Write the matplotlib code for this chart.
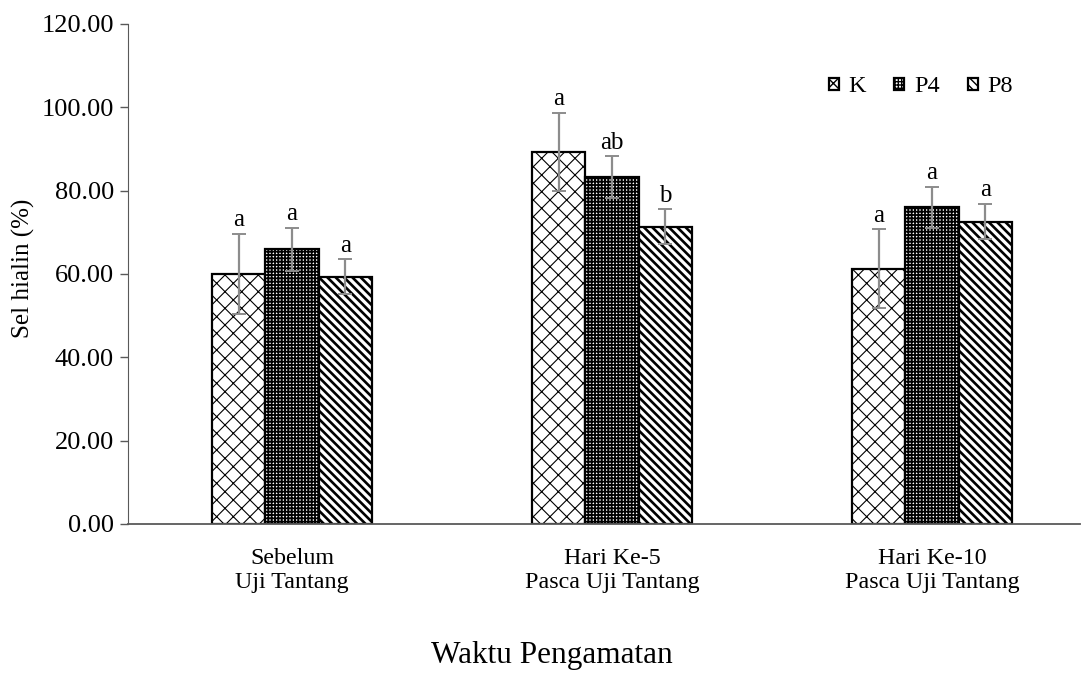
import matplotlib
matplotlib.use("Agg")
import matplotlib.pyplot as plt
import numpy as np

# data
groups = ["Sebelum\nUji Tantang", "Hari Ke-5\nPasca Uji Tantang", "Hari Ke-10\nPasca Uji Tantang"]
series = ["K", "P4", "P8"]
k_vals = [60.0, 89.3, 61.3]
p4_vals = [65.9, 83.3, 76.0]
p8_vals = [59.3, 71.3, 72.6]
k_err = [9.6, 9.4, 9.5]
p4_err = [5.2, 5.0, 5.0]
p8_err = [4.2, 4.2, 4.3]
k_sig = ["a", "a", "a"]
p4_sig = ["a", "ab", "a"]
p8_sig = ["a", "b", "a"]

plt.rcParams["font.family"] = ["Liberation Serif", "DejaVu Serif"]

fig = plt.figure(figsize=(10.81, 6.74), dpi=100)
ax = fig.add_axes([128 / 1081, 1 - 524 / 674, (1080 - 128) / 1081, 500 / 674])

x = np.arange(len(groups))
width = 0.167
hatches = ["xx", "+++++", "\\\\\\\\"]
hatch_lw = [0.8, 1.3, 1.9]
vals = [k_vals, p4_vals, p8_vals]
errs = [k_err, p4_err, p8_err]
sigs = [k_sig, p4_sig, p8_sig]

for i, name in enumerate(series):
    pos = x + (i - 1) * width
    with plt.rc_context({"hatch.linewidth": hatch_lw[i]}):
        ax.bar(pos, vals[i], width, facecolor="white", edgecolor="black",
               linewidth=1.6, hatch=hatches[i], label=name, zorder=2)
    ax.errorbar(pos, vals[i], yerr=errs[i], fmt="none", ecolor="#8c8c8c",
                elinewidth=1.6, capsize=5, capthick=1.4, zorder=3)
    for p, v, e, s in zip(pos, vals[i], errs[i], sigs[i]):
        ax.text(p, v + e + 0.6, s, ha="center", va="bottom", fontsize=18)

ax.set_xlim(-0.5125, 2.4625)
ax.set_ylim(0, 120)
ax.set_yticks(np.arange(0, 121, 20))
ax.set_yticklabels([f"{t:.2f}" for t in np.arange(0, 121, 20)], fontsize=19)
ax.set_xticks(x)
ax.set_xticklabels(groups, fontsize=17.3, linespacing=1.2)
ax.tick_params(axis="x", length=0, pad=17)
ax.tick_params(axis="y", direction="out", length=6, width=1, color="#595959", pad=4)
for side in ["top", "right"]:
    ax.spines[side].set_visible(False)
ax.spines["left"].set_color("#595959")
ax.spines["bottom"].set_color("#595959")
ax.spines["bottom"].set_linewidth(1.3)

ax.set_ylabel("Sel hialin (%)", fontsize=18, va="center")
ax.yaxis.set_label_coords((23 - 128) / 952, (524 - 268) / 500)
fig.text(552 / 1081, 1 - 655 / 674, "Waktu Pengamatan", ha="center", va="center", fontsize=22.5)

ax.legend(loc="center right", bbox_to_anchor=((1013 - 128) / 952, (524 - 87) / 500),
          ncol=3, frameon=False, fontsize=17.5, borderpad=0, borderaxespad=0,
          handlelength=0.42, handleheight=0.42, handletextpad=0.4,
          columnspacing=1.15)

fig.savefig("out.png", dpi=100)
